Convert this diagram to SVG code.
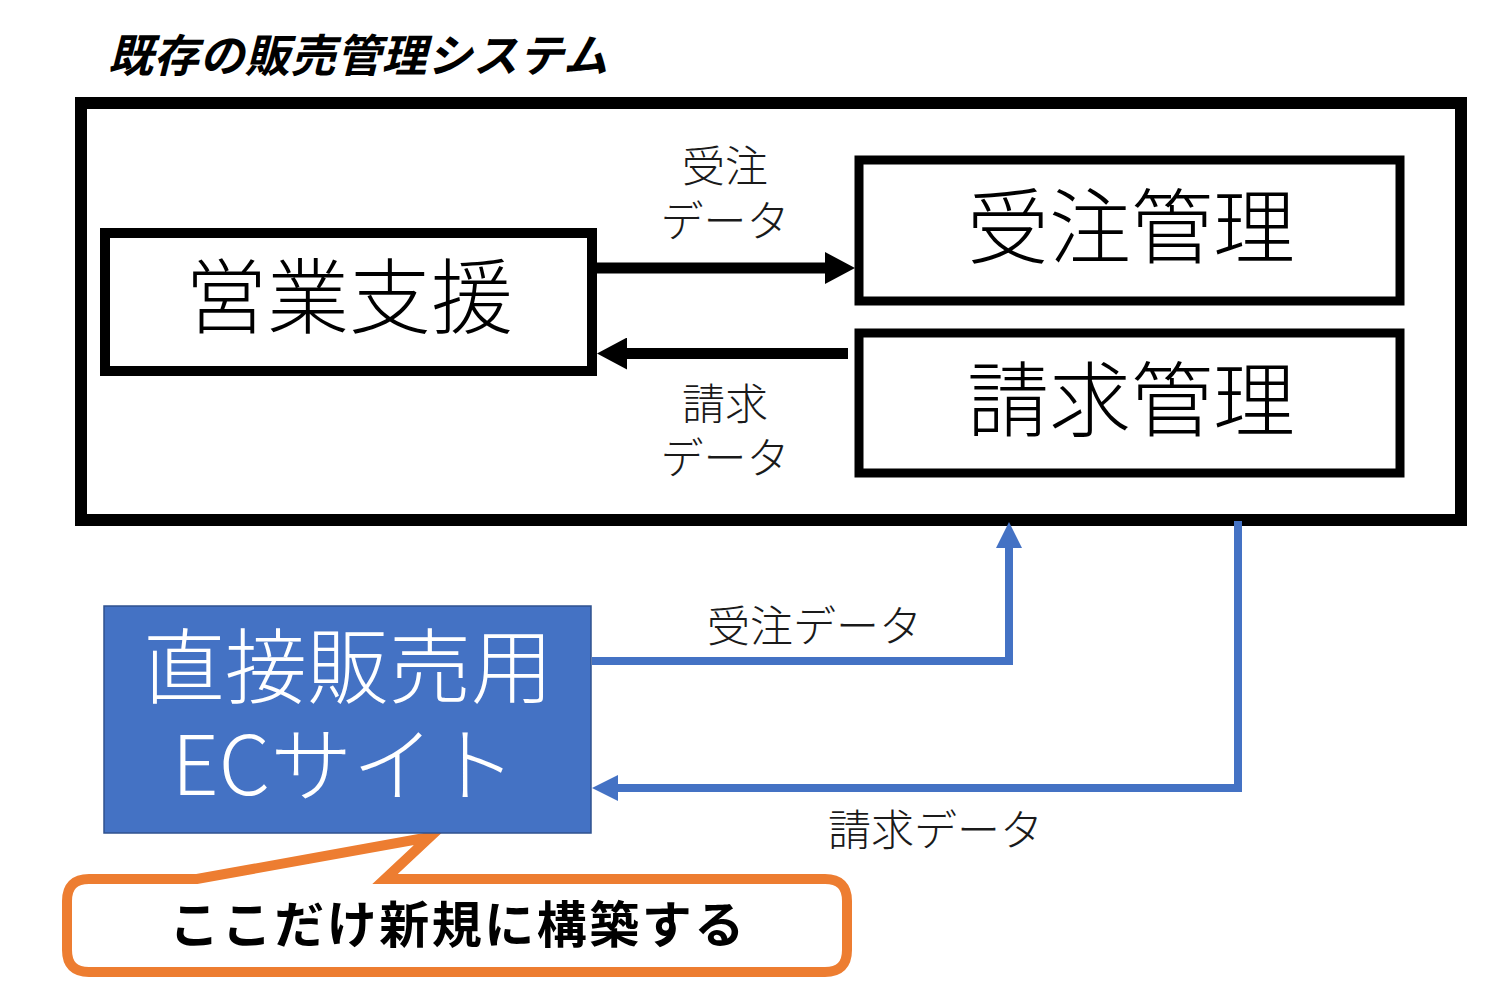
<svg xmlns="http://www.w3.org/2000/svg" width="1510" height="994" viewBox="0 0 1510 994">
<defs>
<style>
.jp{font-family:"Noto Sans CJK JP","Noto Sans CJK SC",sans-serif;}
.box{fill:#ffffff;stroke:#000000;}
.big{font-size:82px;font-weight:300;text-anchor:middle;dominant-baseline:central;}
.lbl{font-size:43px;font-weight:300;fill:#1a1a1a;}
.blk{fill:none;stroke:#000000;stroke-width:11;}
.blu{fill:none;stroke:#4472C4;stroke-width:8;}
</style>
<marker id="ahB" markerUnits="userSpaceOnUse" markerWidth="30" markerHeight="32" refX="0" refY="16" orient="auto" viewBox="0 0 30 32">
<path d="M0,0 L30,16 L0,32 Z" fill="#000000"/>
</marker>
<marker id="ahL" markerUnits="userSpaceOnUse" markerWidth="26" markerHeight="26" refX="0" refY="13" orient="auto" viewBox="0 0 26 26">
<path d="M0,0 L26,13 L0,26 Z" fill="#4472C4"/>
</marker>
</defs>
<rect width="1510" height="994" fill="#ffffff"/>

<g id="title">
<text class="jp" x="108" y="72" font-size="45" font-weight="700" font-style="italic" letter-spacing="0.6" fill="#000">既存の販売管理システム</text>
</g>

<g id="system">
<rect x="81" y="103" width="1380" height="417" fill="none" stroke="#000" stroke-width="12"/>
</g>

<g id="eigyo">
<rect class="box" x="105" y="233" width="487" height="138" stroke-width="10"/>
<text class="jp big" x="349" y="291">営業支援</text>
</g>

<g id="juchu">
<rect class="box" x="859" y="160" width="541" height="141" stroke-width="9"/>
<text class="jp big" x="1131" y="221">受注管理</text>
</g>

<g id="seikyu">
<rect class="box" x="859" y="333" width="541" height="140" stroke-width="9"/>
<text class="jp big" x="1131" y="394">請求管理</text>
</g>

<g id="callout">
<path d="M89,879 L197,879 L430,837 L385,879 L825,879 Q847,879 847,901 L847,950 Q847,972 825,972 L89,972 Q67,972 67,950 L67,901 Q67,879 89,879 Z" fill="#ffffff" stroke="#ED7D31" stroke-width="10" stroke-linejoin="miter"/>
<text class="jp" x="458" y="943" font-size="50" font-weight="700" letter-spacing="2.5" text-anchor="middle" fill="#000">ここだけ新規に構築する</text>
</g>

<g id="ecsite">
<rect x="104" y="606" width="487" height="227" fill="#4472C4" stroke="#2F528F" stroke-width="1.5"/>
<text class="jp big" x="348" y="661" fill="#ffffff">直接販売用</text>
<text class="jp big" x="344" y="759" fill="#ffffff">ECサイト</text>
</g>

<g id="connectors">
<path class="blk" d="M597,268 L825,268" marker-end="url(#ahB)"/>
<path class="blk" d="M848,353.5 L627,353.5" marker-end="url(#ahB)"/>
<path class="blu" d="M592,661 L1009,661 L1009,548" marker-end="url(#ahL)"/>
<path class="blu" d="M1238,521 L1238,788 L618,788" marker-end="url(#ahL)"/>
</g>

<g id="labels">
<text class="jp lbl" x="725" y="182" text-anchor="middle">受注</text>
<text class="jp lbl" x="725" y="237" text-anchor="middle">データ</text>
<text class="jp lbl" x="725" y="420" text-anchor="middle">請求</text>
<text class="jp lbl" x="725" y="474" text-anchor="middle">データ</text>
<text class="jp lbl" x="707" y="642">受注データ</text>
<text class="jp lbl" x="828" y="846">請求データ</text>
</g>
</svg>
